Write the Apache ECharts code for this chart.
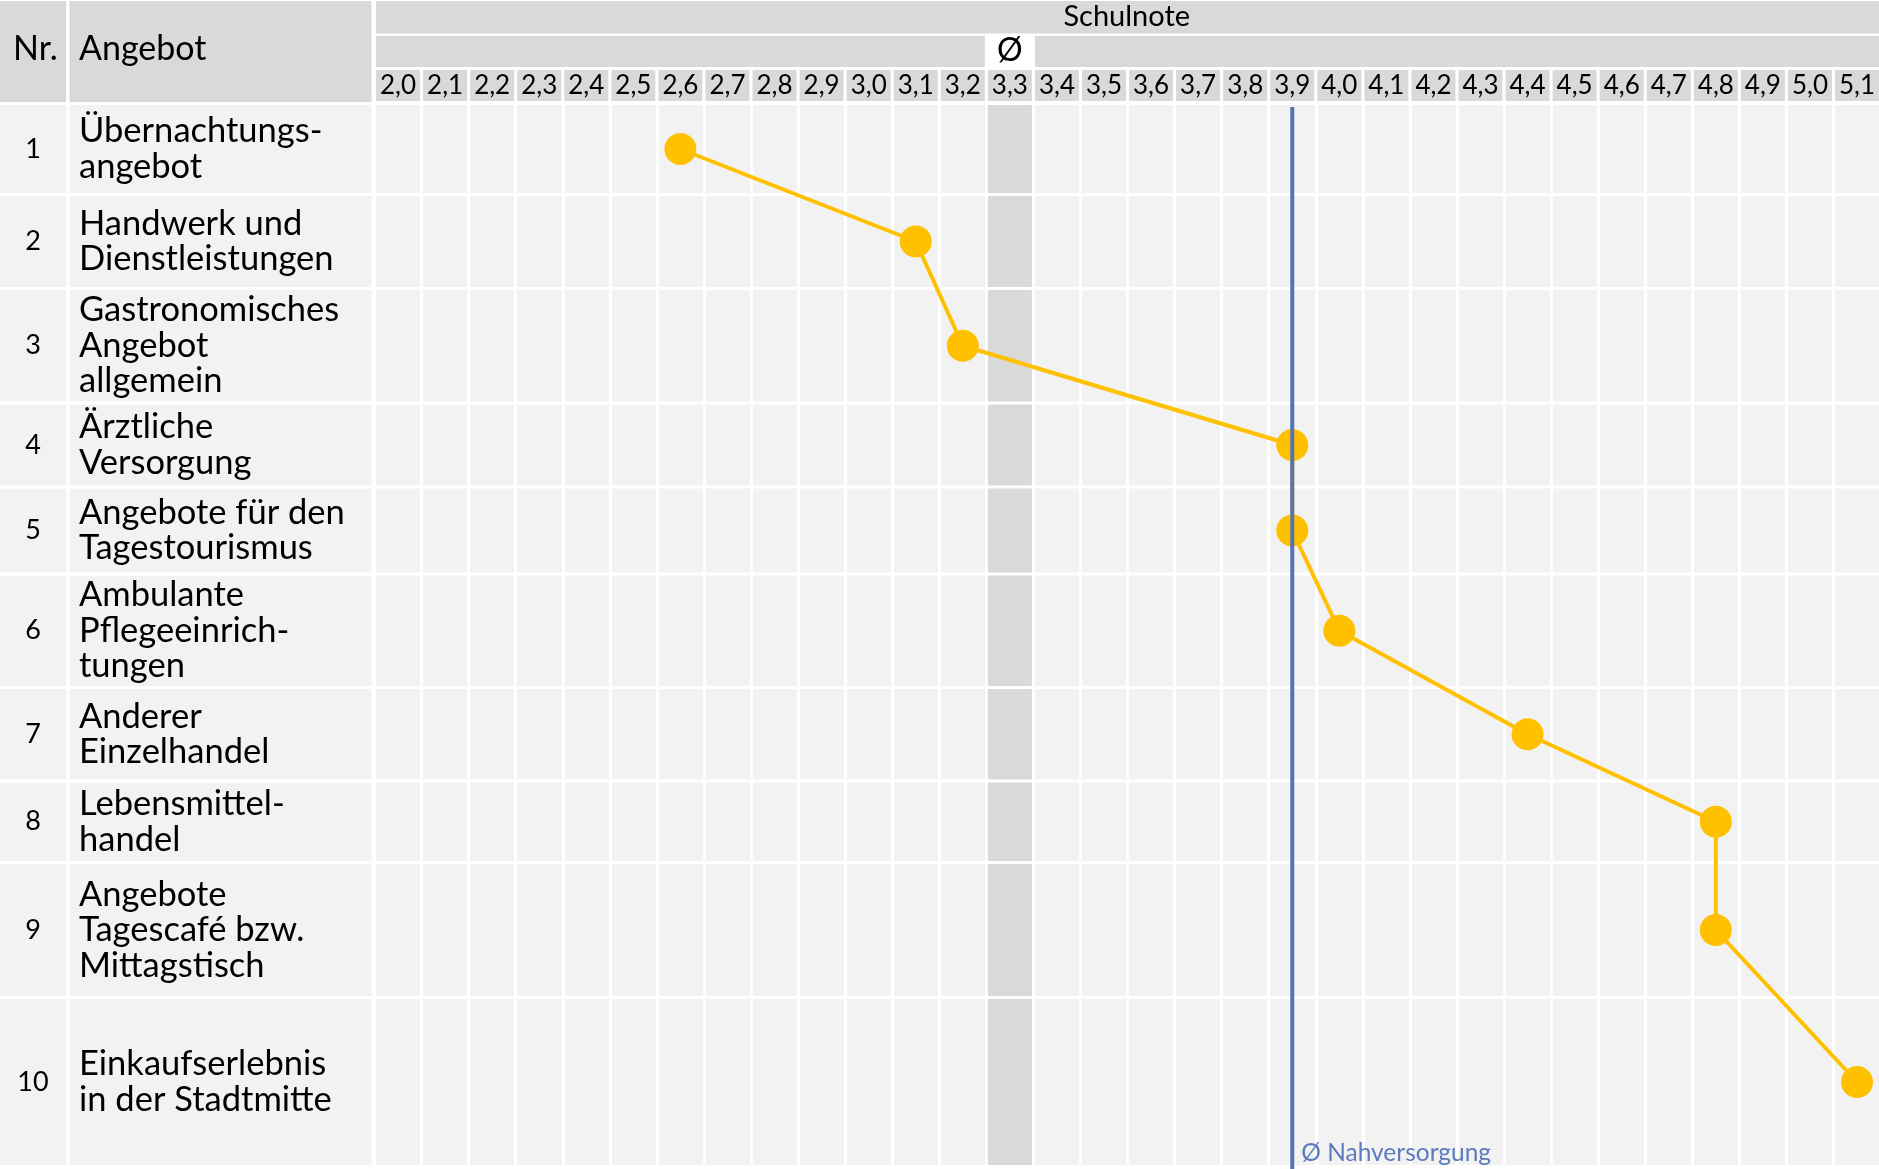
<!DOCTYPE html>
<html>
<head>
<meta charset="utf-8">
<script src="https://cdn.jsdelivr.net/npm/echarts@6/dist/echarts.min.js"></script>
<style>
html, body { margin: 0; padding: 0; background: #fff; overflow: hidden; }
/* letzte Spalte ragt knapp über den Bildrand */
#chart { width: 1882px; height: 1169px; }
</style>
</head>
<body>
<div id="chart"></div>
<script>
// Daten
const offers = [
  'Übernachtungs-\nangebot',
  'Handwerk und\nDienstleistungen',
  'Gastronomisches\nAngebot\nallgemein',
  'Ärztliche\nVersorgung',
  'Angebote für den\nTagestourismus',
  'Ambulante\nPflegeeinrich-\ntungen',
  'Anderer\nEinzelhandel',
  'Lebensmittel-\nhandel',
  'Angebote\nTagescafé bzw.\nMittagstisch',
  'Einkaufserlebnis\nin der Stadtmitte'
]
const offerNr = [1, 2, 3, 4, 5, 6, 7, 8, 9, 10]
const scores = [2.6, 3.1, 3.2, 3.9, 3.9, 4.0, 4.4, 4.8, 4.8, 5.1]
const noteTicks = ['2,0', '2,1', '2,2', '2,3', '2,4', '2,5', '2,6', '2,7', '2,8', '2,9',
  '3,0', '3,1', '3,2', '3,3', '3,4', '3,5', '3,6', '3,7', '3,8', '3,9',
  '4,0', '4,1', '4,2', '4,3', '4,4', '4,5', '4,6', '4,7', '4,8', '4,9', '5,0', '5,1']
const avgAll = 3.3
const avgNahversorgung = 3.9

// Layout (Zeilengrenzen in px)
const rowEdges = [103.5, 194.5, 288.5, 403, 487, 574, 687.5, 781, 862.5, 997.5, 1166.5]
const W = 1882
const H = 1169
const plotLeft = 374.5
const FONT = 'Lato'
const HEAD = '#d9d9d9'
const BODY = '#f2f2f2'

const note = v => v.toFixed(1).replace('.', ',')
const rowMid = i => (rowEdges[i] + rowEdges[i + 1]) / 2

const chart = echarts.init(document.getElementById('chart'))

chart.setOption({
  animation: false,
  backgroundColor: '#fff',
  grid: {
    left: plotLeft, right: 0, top: 102, bottom: 0,
    show: true, backgroundColor: BODY, borderWidth: 0
  },
  xAxis: {
    type: 'category',
    data: noteTicks,
    position: 'top',
    boundaryGap: true,
    axisLine: { show: false },
    axisTick: { show: false },
    axisLabel: {
      interval: 0,
      margin: 1,
      fontFamily: FONT,
      fontSize: 26,
      color: '#000',
      backgroundColor: HEAD,
      width: 44,
      height: 31,
      lineHeight: 31,
      align: 'center'
    },
    splitLine: { show: true, interval: 0, lineStyle: { color: '#fff', width: 3 } }
  },
  yAxis: {
    type: 'value',
    inverse: true,
    min: 102,
    max: H,
    show: false,
    splitLine: { show: false }
  },
  series: [
    {
      // Ø-Spalte
      type: 'bar',
      z: 2,
      clip: true,
      barWidth: 44,
      silent: true,
      itemStyle: { color: HEAD },
      data: [[note(avgAll), H]]
    },
    {
      type: 'line',
      z: 10,
      symbol: 'circle',
      symbolSize: 32,
      lineStyle: { color: '#FFC000', width: 4 },
      itemStyle: { color: '#FFC000' },
      data: scores.map((v, i) => [note(v), rowMid(i)])
    },
    {
      // Ø Nahversorgung
      type: 'line',
      z: 12,
      symbol: 'none',
      lineStyle: { color: '#5475b5', width: 4 },
      data: [[note(avgNahversorgung), 107], [note(avgNahversorgung), H]],
      markPoint: {
        symbol: 'circle',
        symbolSize: 0,
        data: [{ coord: [note(avgNahversorgung), 1153] }],
        label: {
          show: true,
          position: 'right',
          distance: 9,
          formatter: 'Ø Nahversorgung',
          fontFamily: FONT,
          fontSize: 24.5,
          color: '#5b7bbf'
        }
      }
    }
  ]
})

// Tabelle links, Kopfzeilen und Zeilentrenner
const colW = (W - plotLeft) / noteTicks.length
const avgX = chart.convertToPixel({ xAxisIndex: 0 }, note(avgAll))
const gfx = []
const cell = (x, y, w, h, fill, z) => gfx.push({
  type: 'rect', silent: true, z: z || 0,
  shape: { x: x, y: y, width: w, height: h }, style: { fill: fill }
})
const label = (x, y, t, size, align) => gfx.push({
  type: 'text', silent: true, z: 1, x: x, y: y,
  style: {
    text: t, fontFamily: FONT, fontSize: size, fill: '#000',
    align: align, verticalAlign: 'middle', lineHeight: 35.5
  }
})

cell(0, 1, 66, 101, HEAD)
cell(69.5, 1, 302, 101, HEAD)
label(13, 49, 'Nr.', 34, 'left')
label(79, 49, 'Angebot', 34, 'left')

offers.forEach((t, i) => {
  const y0 = rowEdges[i] + 1.5
  const h = rowEdges[i + 1] - rowEdges[i] - 3
  cell(0, y0, 66, h, BODY)
  cell(69.5, y0, 302, h, BODY)
  label(33, rowMid(i), String(offerNr[i]), 27, 'center')
  label(79, rowMid(i), t, 34.5, 'left')
})

cell(plotLeft + 1.5, 1, W - plotLeft - 1.5, 32.5, HEAD)
label((plotLeft + 1879) / 2, 17, 'Schulnote', 29, 'center')
cell(plotLeft + 1.5, 36, avgX - colW / 2 - plotLeft - 3, 31, HEAD)
cell(avgX + colW / 2 + 1.5, 36, W - avgX - colW / 2 - 1.5, 31, HEAD)
label(avgX, 51, 'Ø', 32, 'center')

rowEdges.forEach((e, i) => {
  const h = i === rowEdges.length - 1 ? H - e + 1.5 : 3
  cell(0, e - 1.5, W, h, '#fff', 5)
})

chart.setOption({ graphic: { elements: gfx } })
</script>
</body>
</html>
